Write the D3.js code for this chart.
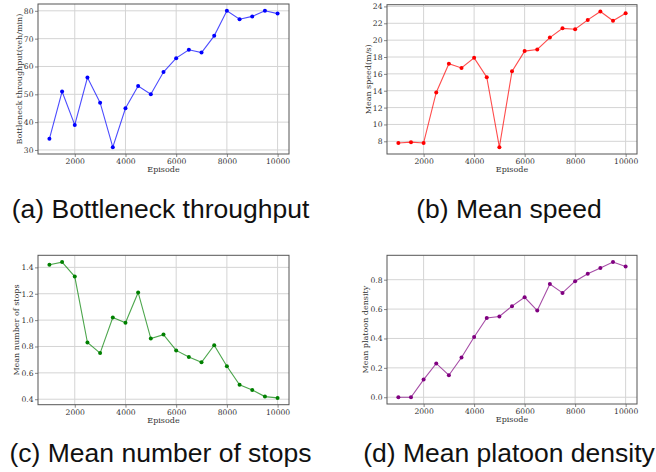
<!DOCTYPE html>
<html lang="en">
<head>
  <meta charset="UTF-8" />
  <title>Training curves</title>
  <style>
    body { margin: 0; background: white; }
    svg { display: block; }
    .tick text { font-family: "DejaVu Serif", serif; font-size: 7.6px; fill: #333; }
    .axis-label { font-family: "DejaVu Serif", serif; font-size: 8px; fill: #333; }
    .caption { font-family: "Liberation Sans", Arial, sans-serif; font-size: 26.5px; fill: #111; }
  </style>
</head>
<body>
<svg width="656" height="472"></svg>
<script src="https://d3js.org/d3.v7.min.js"></script>
<script>
// data
const episodes = [1000, 1500, 2000, 2500, 3000, 3500, 4000, 4500, 5000, 5500,
                  6000, 6500, 7000, 7500, 8000, 8500, 9000, 9500, 10000];
const throughput = [34, 51, 39, 56, 47, 31, 45, 53, 50, 58, 63, 66, 65, 71, 80, 77, 78, 80, 79];
const speed = [7.8, 7.9, 7.8, 13.8, 17.2, 16.7, 17.9, 15.6, 7.3, 16.3, 18.7, 18.9, 20.3, 21.4, 21.3, 22.4, 23.4, 22.3, 23.2];
const stops = [1.42, 1.44, 1.33, 0.83, 0.75, 1.02, 0.98, 1.21, 0.86, 0.89, 0.77, 0.72, 0.68, 0.81, 0.65, 0.51, 0.47, 0.42, 0.41];
const density = [0.0, 0.0, 0.12, 0.23, 0.15, 0.27, 0.41, 0.54, 0.55, 0.62, 0.68, 0.59, 0.77, 0.71, 0.79, 0.84, 0.88, 0.92, 0.89];
const xTicks = [2000, 4000, 6000, 8000, 10000];

const panels = [
  { values: throughput, ylabel: "Bottleneck throughput(veh/min)", caption: "(a) Bottleneck throughput",
    color: "#0000ff", yTicks: [30, 40, 50, 60, 70, 80], fmt: d3.format("d"),
    box: [38, 4, 289, 154], labelOff: 19, capY: 218 },
  { values: speed, ylabel: "Mean speed(m/s)", caption: "(b) Mean speed",
    color: "#ff0000", yTicks: [8, 10, 12, 14, 16, 18, 20, 22, 24], fmt: d3.format("d"),
    box: [387, 4.7, 637, 154], labelOff: 19, capY: 218 },
  { values: stops, ylabel: "Mean number of stops", caption: "(c) Mean number of stops",
    color: "#008000", yTicks: [0.4, 0.6, 0.8, 1.0, 1.2, 1.4], fmt: d3.format(".1f"),
    box: [38, 255.3, 289, 404.7], labelOff: 22, capY: 462 },
  { values: density, ylabel: "Mean platoon density", caption: "(d) Mean platoon density",
    color: "#800080", yTicks: [0.0, 0.2, 0.4, 0.6, 0.8], fmt: d3.format(".1f"),
    box: [387, 255.3, 637, 404], labelOff: 21.5, capY: 462 }
];

const svg = d3.select("svg");

// matplotlib-like 5% margins
function padded(ext) {
  const p = (ext[1] - ext[0]) * 0.05;
  return [ext[0] - p, ext[1] + p];
}

panels.forEach(p => {
  const [x0, y0, x1, y1] = p.box;
  const x = d3.scaleLinear().domain(padded(d3.extent(episodes))).range([x0, x1]);
  const y = d3.scaleLinear().domain(padded(d3.extent(p.values))).range([y1, y0]);
  const g = svg.append("g");

  // grid
  g.append("g").selectAll("line").data(xTicks).join("line")
    .attr("x1", d => x(d)).attr("x2", d => x(d))
    .attr("y1", y0).attr("y2", y1)
    .attr("stroke", "#d4d4d4").attr("stroke-width", 1);
  g.append("g").selectAll("line").data(p.yTicks).join("line")
    .attr("x1", x0).attr("x2", x1)
    .attr("y1", d => y(d)).attr("y2", d => y(d))
    .attr("stroke", "#d4d4d4").attr("stroke-width", 1);

  // axes
  const xa = g.append("g").attr("transform", `translate(0,${y1})`)
    .call(d3.axisBottom(x).tickValues(xTicks).tickSize(3).tickPadding(1.5).tickFormat(d3.format("d")));
  const ya = g.append("g").attr("transform", `translate(${x0},0)`)
    .call(d3.axisLeft(y).tickValues(p.yTicks).tickSize(3).tickPadding(1.5).tickFormat(p.fmt));
  [xa, ya].forEach(a => {
    a.select(".domain").remove();
    a.selectAll(".tick line").attr("stroke", "#888");
  });

  // frame
  g.append("rect")
    .attr("x", x0).attr("y", y0)
    .attr("width", x1 - x0).attr("height", y1 - y0)
    .attr("fill", "none").attr("stroke", "#555").attr("stroke-width", 1);

  // labels
  g.append("text").attr("class", "axis-label")
    .attr("x", (x0 + x1) / 2).attr("y", y1 + 18)
    .attr("text-anchor", "middle").text("Episode");
  g.append("text").attr("class", "axis-label")
    .attr("transform", `translate(${x0 - p.labelOff},${(y0 + y1) / 2}) rotate(-90)`)
    .attr("text-anchor", "middle").attr("dy", "0.35em").text(p.ylabel);

  // series
  const line = d3.line().x((d, i) => x(episodes[i])).y(d => y(d));
  g.append("path").datum(p.values)
    .attr("d", line).attr("fill", "none")
    .attr("stroke", p.color).attr("stroke-opacity", 0.7).attr("stroke-width", 1.1);
  g.append("g").selectAll("circle").data(p.values).join("circle")
    .attr("cx", (d, i) => x(episodes[i])).attr("cy", d => y(d))
    .attr("r", 2).attr("fill", p.color);

  svg.append("text").attr("class", "caption")
    .attr("x", (x0 + x1) / 2 - 3).attr("y", p.capY)
    .attr("text-anchor", "middle").text(p.caption);
});
</script>
</body>
</html>
